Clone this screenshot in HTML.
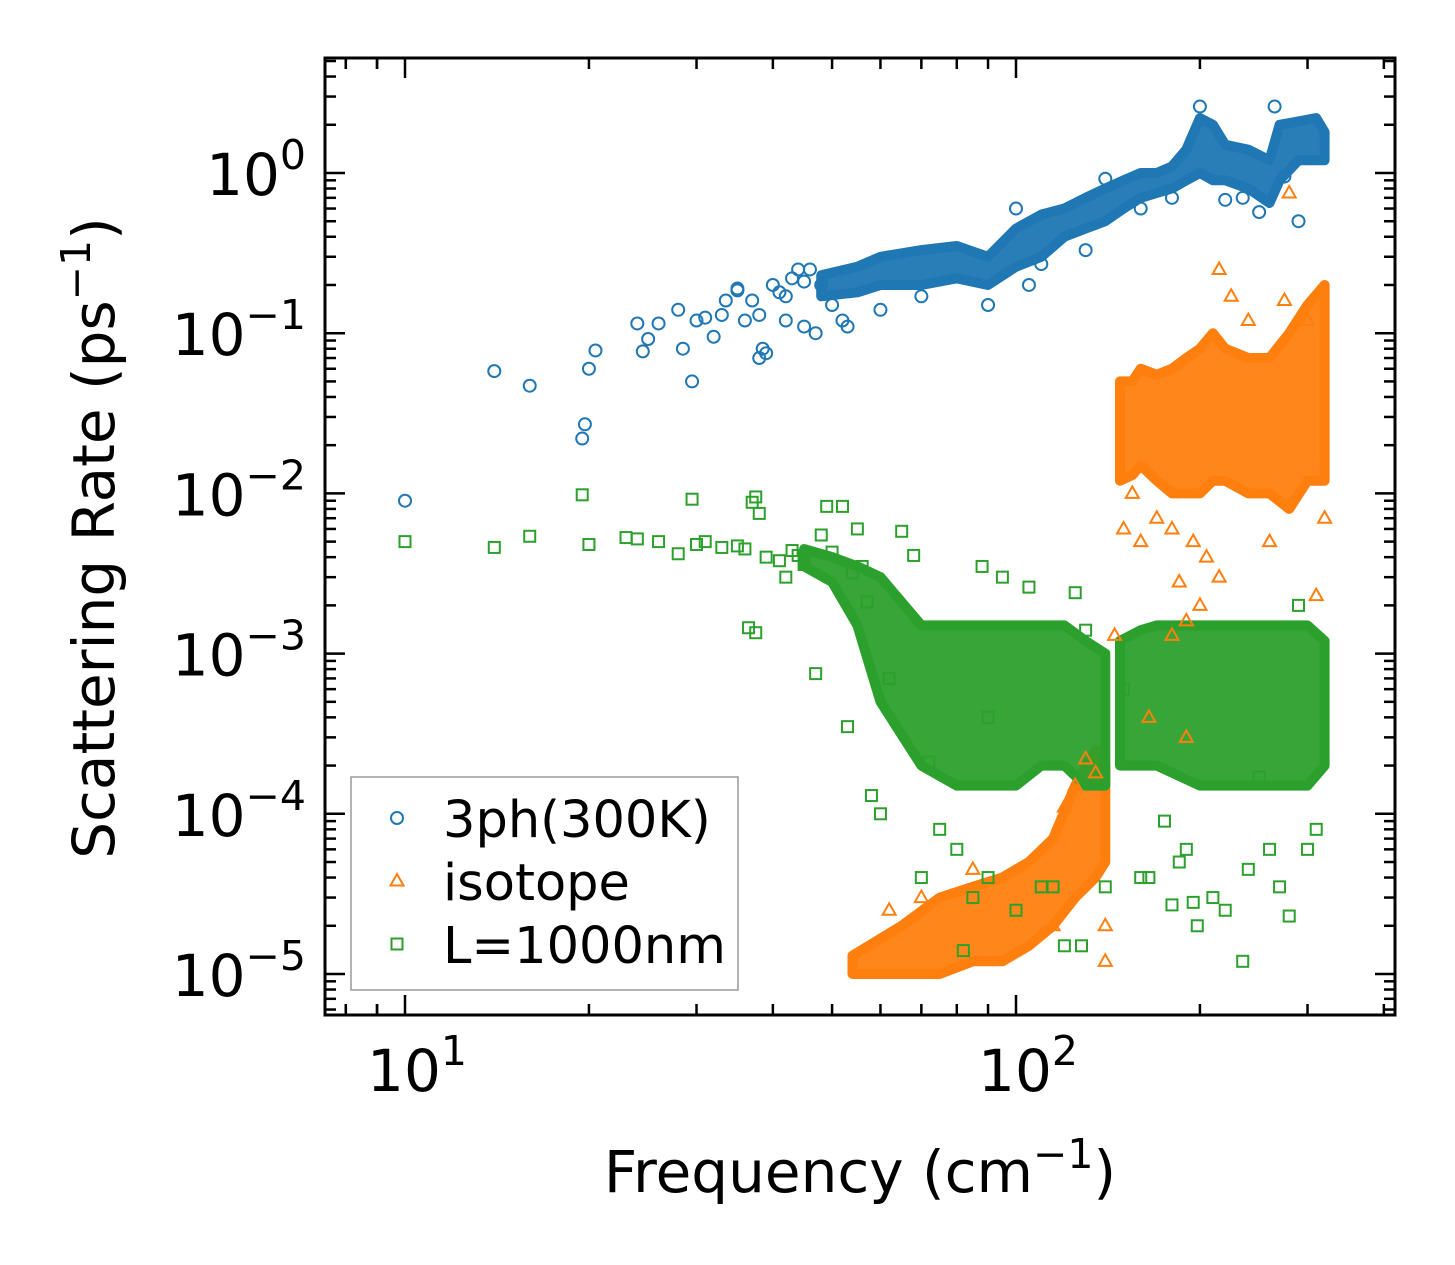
<!DOCTYPE html>
<html><head><meta charset="utf-8"><style>
html,body{margin:0;padding:0;background:#fff;}
svg{display:block;font-family:"DejaVu Sans","Liberation Sans",sans-serif;}
</style></head><body>
<svg id="chart" width="1455" height="1265" viewBox="0 0 1455 1265" xmlns="http://www.w3.org/2000/svg">
<rect width="1455" height="1265" fill="#fff"/>
<g id="bands"></g>
<g id="pts"></g>
<g id="axes"></g>
</svg>
<script>
// ---- data ----
const blueX=[10,14,16,19.5,19.7,20,20.5,24,24.5,25,26,28,28.5,29.5,30,31,32,33,33.5,35,36,37,38,38,38.5,39,40,41,42,43,44,45,46,47,48,50,52,53,60,70,90,100,105,110,130,140,160,180,200,220,235,250,265,275,290,35,42,45];
const blueY=[0.009,0.058,0.047,0.022,0.027,0.06,0.078,0.115,0.077,0.092,0.115,0.14,0.08,0.05,0.12,0.125,0.095,0.13,0.16,0.185,0.12,0.16,0.13,0.07,0.08,0.075,0.2,0.18,0.12,0.22,0.25,0.11,0.25,0.1,0.2,0.15,0.12,0.11,0.14,0.17,0.15,0.6,0.2,0.27,0.33,0.92,0.6,0.7,2.6,0.68,0.7,0.57,2.6,0.95,0.5,0.19,0.17,0.21];
const blueBandX=[48,55,60,70,80,90,100,110,120,130,140,150,160,170,180,190,200,210,220,240,260,270,290,310,320];
const blueBandLo=[0.17,0.18,0.2,0.2,0.22,0.2,0.26,0.3,0.4,0.45,0.5,0.6,0.7,0.75,0.8,0.9,1.0,0.9,0.9,0.8,0.65,0.9,1.2,1.2,1.2];
const blueBandHi=[0.23,0.26,0.3,0.33,0.35,0.3,0.45,0.55,0.6,0.7,0.8,0.9,1.0,1.0,1.1,1.4,2.2,2.0,1.5,1.4,1.2,2.0,2.1,2.2,1.8];

const orX=[135,140,145,150,155,160,170,180,185,190,195,200,205,215,215,225,240,260,275,280,300,320,310,180,165,190,130,125,120,115,140,70,62,85];
const orY=[1.8e-4,1.2e-5,1.3e-3,6e-3,1e-2,5e-3,7e-3,6e-3,2.8e-3,1.6e-3,5e-3,2e-3,4e-3,3e-3,0.25,0.17,0.12,0.005,0.16,0.75,0.12,0.007,0.0023,1.3e-3,4e-4,3e-4,2.2e-4,1.5e-4,1.1e-4,2e-5,2e-5,3e-5,2.5e-5,4.5e-5];
const orBandX=[148,155,160,170,180,190,200,210,220,240,260,280,300,320];
const orBandLo=[0.012,0.013,0.015,0.012,0.01,0.01,0.01,0.012,0.012,0.01,0.01,0.008,0.012,0.012];
const orBandHi=[0.05,0.05,0.06,0.055,0.06,0.07,0.08,0.1,0.08,0.07,0.07,0.1,0.15,0.2];
const orBand2X=[54,65,75,85,95,105,115,125,135,140];
const orBand2Lo=[1e-5,1e-5,1e-5,1.2e-5,1.2e-5,1.5e-5,2e-5,3e-5,4e-5,5e-5];
const orBand2Hi=[1.3e-5,2e-5,3e-5,3.5e-5,4e-5,5e-5,7e-5,1.5e-4,2.5e-4,2e-4];

const grX=[10,14,16,19.5,20,23,24,26,28,29.5,30,31,33,35,36,37,37.5,38,36.5,37.5,39,41,42,43,44,45,47,48,49,50,52,53,54,55,56,57,58,60,62,65,68,70,72,75,80,82,85,88,90,95,100,105,110,115,120,125,128,130,140,150,160,165,175,180,185,195,198,210,220,235,240,260,270,280,300,310,190,250,290,90,45];
const grY=[0.005,0.0046,0.0054,0.0098,0.0048,0.0053,0.0052,0.005,0.0042,0.0092,0.0048,0.005,0.0046,0.0047,0.0045,0.0088,0.0095,0.0075,0.00145,0.00135,0.004,0.0038,0.003,0.0044,0.0041,0.0036,0.00075,0.0055,0.0083,0.0043,0.0083,0.00035,0.0032,0.006,0.0035,0.0021,0.00013,0.0001,0.0007,0.0058,0.0041,4e-5,0.00021,8e-5,6e-5,1.4e-5,3e-5,0.0035,4e-5,0.003,2.5e-5,0.0026,3.5e-5,3.5e-5,1.5e-5,0.0024,1.5e-5,0.0014,3.5e-5,0.0006,4e-5,4e-5,9e-5,2.7e-5,5e-5,2.8e-5,2e-5,3e-5,2.5e-5,1.2e-5,4.5e-5,6e-5,3.5e-5,2.3e-5,6e-5,8e-5,6e-5,0.00017,0.002,0.0004,0.0041];
const grBandX=[45,50,55,60,70,80,90,100,110,120,130,140];
const grBandLo=[0.0035,0.0028,0.0015,0.0005,0.0002,0.00015,0.00015,0.00015,0.0002,0.0002,0.00015,0.00015];
const grBandHi=[0.0045,0.004,0.0035,0.003,0.0015,0.0015,0.0015,0.0015,0.0015,0.0015,0.0012,0.001];
const grBand2X=[148,160,170,200,250,300,320];
const grBand2Lo=[0.0002,0.0002,0.0002,0.00015,0.00015,0.00015,0.0002];
const grBand2Hi=[0.0012,0.0014,0.0015,0.0015,0.0015,0.0015,0.0012];

const xTickVals=[10,100];
const xTickExp=["1","2"];
const yTickVals=[1,0.1,0.01,0.001,0.0001,0.00001];
const yTickExp=["0","\u22121","\u22122","\u22123","\u22124","\u22125"];

// ---- scales ----
const L=325,R=1395,T=58,B=1015;
function sx(v){return 405+(Math.log10(v)-1)*611;}
function sy(v){return 173-Math.log10(v)*160.2;}
const NS="http://www.w3.org/2000/svg";
function mk(tag,attrs,parent){const e=document.createElementNS(NS,tag);for(const k in attrs)e.setAttribute(k,attrs[k]);parent.appendChild(e);return e;}
const bands=document.getElementById('bands'),pts=document.getElementById('pts'),axes=document.getElementById('axes');
const C={b:'#1f77b4',o:'#ff7f0e',g:'#2ca02c'};

function band(xs,lo,hi,col,name){
  let d='M'+xs.map((x,i)=>sx(x).toFixed(1)+','+sy(hi[i]).toFixed(1)).join('L');
  for(let i=xs.length-1;i>=0;i--)d+='L'+sx(xs[i]).toFixed(1)+','+sy(lo[i]).toFixed(1);
  const p=mk('path',{d:d+'Z',fill:col,stroke:col,'stroke-width':10,'stroke-linejoin':'round','fill-opacity':0.95},bands);
  
  
}
function circ(x,y,g){return mk('circle',{cx:x,cy:y,r:6,fill:'none',stroke:C.b,'stroke-width':2},g);}
function tri(x,y,g){return mk('path',{d:`M${x},${y-7}L${x+6.5},${y+4.5}L${x-6.5},${y+4.5}Z`,fill:'none',stroke:C.o,'stroke-width':2},g);}
function sq(x,y,g){return mk('rect',{x:x-5.5,y:y-5.5,width:11,height:11,fill:'none',stroke:C.g,'stroke-width':2},g);}

band(blueBandX,blueBandLo,blueBandHi,C.b,'3ph-dense-cloud');
band(orBandX,orBandLo,orBandHi,C.o,'isotope-upper-cloud');
band(orBand2X,orBand2Lo,orBand2Hi,C.o,'isotope-lower-cloud');
blueX.forEach((x,i)=>{const e=circ(sx(x),sy(blueY[i]),pts);

});
orX.forEach((x,i)=>{const e=tri(sx(x),sy(orY[i]),pts);

});
band(grBandX,grBandLo,grBandHi,C.g,'boundary-dense-cloud');
band(grBand2X,grBand2Lo,grBand2Hi,C.g,'boundary-dense-cloud-2');
grX.forEach((x,i)=>{const e=sq(sx(x),sy(grY[i]),pts);

});

// ---- axes ----
const fr=mk('rect',{x:L,y:T,width:R-L,height:B-T,fill:'none',stroke:'#000','stroke-width':3},axes);


function tick(x1,y1,x2,y2){mk('line',{x1,y1,x2,y2,stroke:'#000','stroke-width':2.5},axes);}
for(let dec=1;dec<=100;dec*=10){for(let m=1;m<=9;m++){const v=dec*m;const x=sx(v);if(x<L+1||x>R-1)continue;const len=m===1?20:11;tick(x,B,x,B-len);tick(x,T,x,T+len);}}
[8,9].forEach(v=>{const x=sx(v);tick(x,B,x,B-11);tick(x,T,x,T+11);});
for(let e=-6;e<=1;e++){for(let m=1;m<=9;m++){const v=m*Math.pow(10,e);const y=sy(v);if(y<T+1||y>B-1)continue;const len=m===1?20:11;tick(L,y,L+len,y);tick(R,y,R-len,y);}}
xTickVals.forEach((v,i)=>{const t=mk('text',{x:sx(v)+12,y:1091,'font-size':58,'text-anchor':'middle',fill:'#000'},axes);


t.innerHTML='10<tspan font-size="41" dy="-26">'+xTickExp[i]+'</tspan>';});
yTickVals.forEach((v,i)=>{const t=mk('text',{x:306,y:sy(v)+22,'font-size':58,'text-anchor':'end',fill:'#000'},axes);


t.innerHTML='10<tspan font-size="41" dy="-26">'+yTickExp[i]+'</tspan>';});
const xl=mk('text',{x:860,y:1192,'font-size':58,'text-anchor':'middle',fill:'#000'},axes);


xl.innerHTML='Frequency (cm<tspan font-size="41" dy="-24">\u22121</tspan><tspan dy="24">)</tspan>';
const yl=mk('text',{x:0,y:0,'font-size':58,'text-anchor':'middle',fill:'#000',transform:'translate(114,538) rotate(-90)'},axes);


yl.innerHTML='Scattering Rate (ps<tspan font-size="41" dy="-24">\u22121</tspan><tspan dy="24">)</tspan>';
// legend
const lg=mk('g',{},axes);


mk('rect',{x:351,y:777,width:387,height:213,fill:'#fff',stroke:'#999','stroke-width':1.5},lg);
const labs=['3ph(300K)','isotope','L=1000nm'],fns=[circ,tri,sq],names=['legend-3ph','legend-isotope','legend-boundary'];
labs.forEach((s,i)=>{const y=818+i*63;fns[i](397,y,lg);
const t=mk('text',{x:443,y:y+19,'font-size':51,fill:'#000'},lg);t.textContent=s;

});
</script>
</body></html>
